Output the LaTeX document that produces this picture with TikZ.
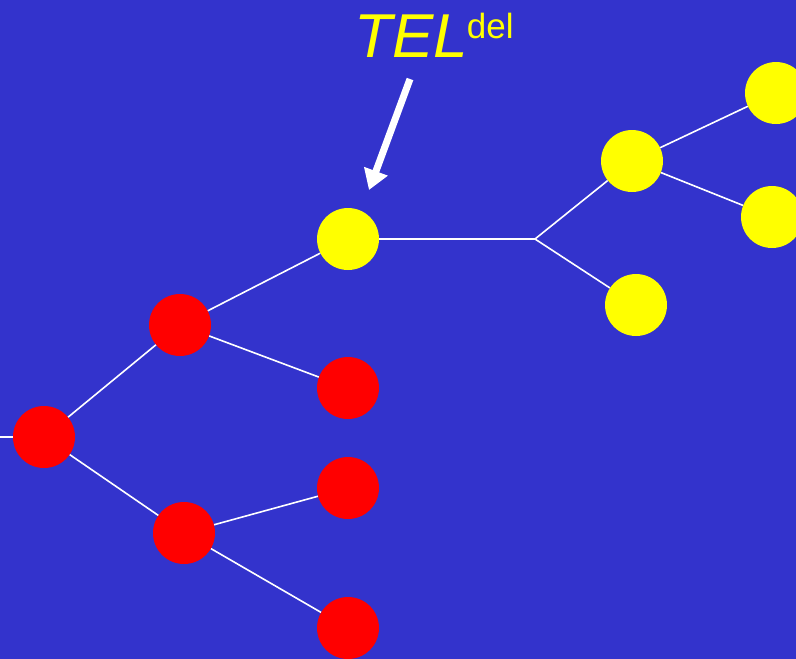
\documentclass[tikz,border=0pt]{standalone}
\usepackage{fontspec}
\setmainfont{Liberation Sans}
\usetikzlibrary{arrows.meta}
\definecolor{bg}{HTML}{3333CC}
\definecolor{yel}{HTML}{FFFF00}
\definecolor{rd}{HTML}{FF0000}
\begin{document}
\begin{tikzpicture}[x=1pt,y=-1pt,
  ball/.style={circle,inner sep=0pt,minimum size=62pt,draw=none},
  rball/.style={ball,fill=rd},
  yball/.style={ball,fill=yel},
  link/.style={white,line width=1.6pt}]
\fill[bg] (0,0) rectangle (796,659);
\useasboundingbox (0,0) rectangle (796,659);
% red nodes
\node[rball] (R0) at (44,437) {};
\node[rball] (R1) at (180,325) {};
\node[rball] (R2) at (348,388) {};
\node[rball] (R3) at (184,533) {};
\node[rball] (R4) at (348,488) {};
\node[rball] (R5) at (348,628) {};
% yellow nodes
\node[yball] (Y0) at (348,239) {};
\node[yball] (Y1) at (632,161) {};
\node[yball] (Y2) at (776,93) {};
\node[yball] (Y3) at (772,217) {};
\node[yball] (Y4) at (636,305) {};
\coordinate (B) at (535,239);
\coordinate (L0) at (0,437);
% links
\draw[link] (L0) -- (R0.west);
\draw[link] (R0) -- (R1);
\draw[link] (R0) -- (R3);
\draw[link] (R1) -- (Y0);
\draw[link] (R1) -- (R2);
\draw[link] (R3) -- (R4);
\draw[link] (R3) -- (R5);
\draw[link] (Y0.east) -- (B);
\draw[link] (B) -- (Y1);
\draw[link] (B) -- (Y4);
\draw[link] (Y1) -- (Y2);
\draw[link] (Y1) -- (Y3);
% label
\node[anchor=base west,inner sep=0pt,text=yel] (T) at (354,57)
  {\fontsize{62}{62}\selectfont\itshape TEL\kern-1pt\raisebox{19pt}{\fontsize{35}{35}\selectfont\upshape del}};
\coordinate (A0) at (410,79);
\coordinate (A1) at (369,190);
\draw[white,line width=7pt,-{Triangle[length=20pt,width=24pt]}] (A0) -- (A1);
\end{tikzpicture}
\end{document}
